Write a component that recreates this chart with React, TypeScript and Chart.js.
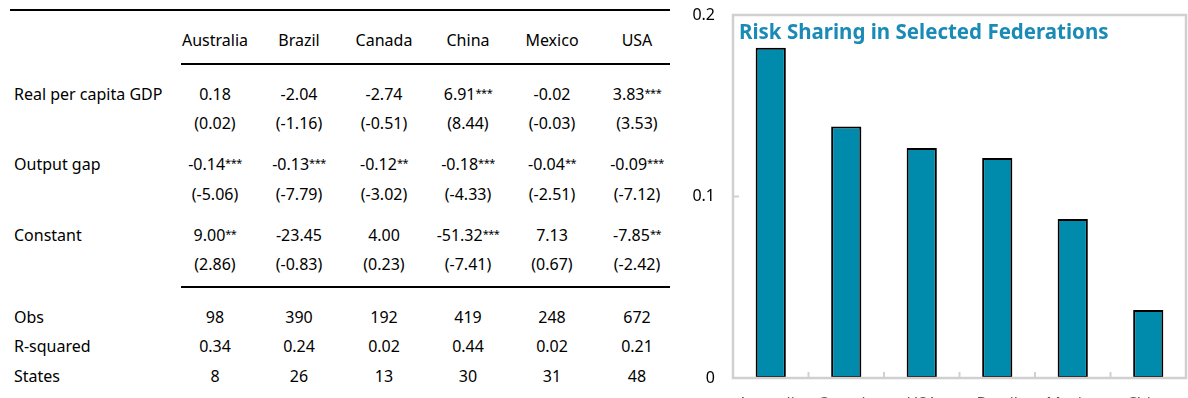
import React, { useEffect, useRef } from "react";
import { Chart, registerables } from "chart.js";

Chart.register(...registerables);

// ---- Table data ----
const countries = ["Australia", "Brazil", "Canada", "China", "Mexico", "USA"];
const gdpCoef = ["0.18", "-2.04", "-2.74", "6.91***", "-0.02", "3.83***"];
const gdpT = ["(0.02)", "(-1.16)", "(-0.51)", "(8.44)", "(-0.03)", "(3.53)"];
const gapCoef = ["-0.14***", "-0.13***", "-0.12**", "-0.18***", "-0.04**", "-0.09***"];
const gapT = ["(-5.06)", "(-7.79)", "(-3.02)", "(-4.33)", "(-2.51)", "(-7.12)"];
const constCoef = ["9.00**", "-23.45", "4.00", "-51.32***", "7.13", "-7.85**"];
const constT = ["(2.86)", "(-0.83)", "(0.23)", "(-7.41)", "(0.67)", "(-2.42)"];
const obs = ["98", "390", "192", "419", "248", "672"];
const rSquared = ["0.34", "0.24", "0.02", "0.44", "0.02", "0.21"];
const statesCount = ["8", "26", "13", "30", "31", "48"];

// ---- Chart data ----
const chartTitle = "Risk Sharing in Selected Federations";
const federations = ["Australia", "Canada", "USA", "Brazil", "Mexico", "China"];
const riskSharing = [0.182, 0.1385, 0.1267, 0.1212, 0.0876, 0.0375];
const yTicks = [0, 0.1, 0.2];

const FONT = "'Noto Sans', 'Open Sans', sans-serif";
const colCenters = [215, 299, 384, 468, 552, 637];

function Val({ s }: { s: string }) {
  const m = s.match(/^(.*?)(\*+)$/);
  if (!m) return <>{s}</>;
  return (
    <>
      {m[1]}
      <span style={{ fontSize: 11, position: "relative", top: -3, letterSpacing: -0.5 }}>{m[2]}</span>
    </>
  );
}

function Row({ y, label, values }: { y: number; label?: string; values: string[] }) {
  return (
    <>
      {label && (
        <div style={{ position: "absolute", left: 14, top: y - 12, height: 24, lineHeight: "24px", whiteSpace: "nowrap" }}>
          {label}
        </div>
      )}
      {values.map((v, i) => (
        <div
          key={i}
          style={{
            position: "absolute",
            left: colCenters[i] - 50,
            width: 100,
            top: y - 12,
            height: 24,
            lineHeight: "24px",
            textAlign: "center",
            whiteSpace: "nowrap",
          }}
        >
          <Val s={v} />
        </div>
      ))}
    </>
  );
}

const framePlugin = {
  id: "framePlugin",
  afterDraw(chart: any) {
    const { ctx, chartArea } = chart;
    const { left, right, top, bottom } = chartArea;
    ctx.save();
    ctx.strokeStyle = "#d0d0d0";
    ctx.lineWidth = 2.5;
    ctx.strokeRect(left, top, right - left, bottom - top);
    // x category boundary ticks (inside)
    ctx.lineWidth = 2;
    const n = federations.length;
    const step = (right - left) / n;
    for (let i = 1; i < n; i++) {
      const x = left + step * i;
      ctx.beginPath();
      ctx.moveTo(x, bottom);
      ctx.lineTo(x, bottom - 6);
      ctx.stroke();
    }
    // y inner ticks
    const ys = chart.scales.y;
    yTicks.forEach((t) => {
      const y = ys.getPixelForValue(t);
      ctx.beginPath();
      ctx.moveTo(left, y);
      ctx.lineTo(left + 6, y);
      ctx.stroke();
    });
    // title
    ctx.fillStyle = "#1a8bb6";
    ctx.font = `bold 20.5px ${FONT}`;
    ctx.textBaseline = "middle";
    ctx.textAlign = "left";
    ctx.fillText(chartTitle, left + 6, 33);
    ctx.restore();
  },
};

function BarChart() {
  const ref = useRef<HTMLCanvasElement>(null);
  useEffect(() => {
    if (!ref.current) return;
    const chart = new Chart(ref.current, {
      type: "bar",
      data: {
        labels: federations,
        datasets: [
          {
            data: riskSharing,
            backgroundColor: "#008bad",
            borderColor: "#000000",
            borderWidth: 2,
            barPercentage: 0.4,
            categoryPercentage: 1,
            borderSkipped: false,
          },
        ],
      },
      options: {
        animation: false,
        responsive: false,
        maintainAspectRatio: false,
        layout: { padding: { top: 15, right: 2, left: 0, bottom: 0 } },
        plugins: { legend: { display: false }, tooltip: { enabled: false }, title: { display: false } },
        scales: {
          x: {
            grid: { display: false, drawTicks: false },
            border: { display: false },
            ticks: { color: "#595959", font: { family: FONT, size: 16 }, padding: 17, maxRotation: 0 },
            afterFit: (s: any) => {
              s.height = 32;
              s.paddingLeft = 0;
              s.paddingRight = 0;
            },
          },
          y: {
            min: 0,
            max: 0.2,
            grid: { display: false, drawTicks: false },
            border: { display: false },
            afterBuildTicks: (s: any) => {
              s.ticks = yTicks.map((v) => ({ value: v }));
            },
            ticks: {
              color: "#000000",
              font: { family: FONT, size: 16 },
              padding: 18,
              callback: (v: any) => String(Number(v)),
            },
            afterFit: (s: any) => {
              s.width = 53;
              s.paddingTop = 0;
              s.paddingBottom = 0;
            },
          },
        },
      },
      plugins: [framePlugin],
    });
    return () => chart.destroy();
  }, []);
  return <canvas ref={ref} width={508} height={410} style={{ display: "block", width: 508, height: 410 }} />;
}

export default function App() {
  return (
    <div
      style={{
        position: "absolute",
        left: 0,
        top: 0,
        width: 1188,
        height: 398,
        overflow: "hidden",
        background: "#ffffff",
        fontFamily: FONT,
        fontSize: 16,
        color: "#000",
      }}
    >
      {/* table rules */}
      <div style={{ position: "absolute", left: 10, top: 9, width: 660, height: 2, background: "#000" }} />
      <div style={{ position: "absolute", left: 181, top: 63, width: 489, height: 2, background: "#000" }} />
      <div style={{ position: "absolute", left: 181, top: 286, width: 489, height: 2, background: "#000" }} />

      <Row y={40} values={countries} />
      <Row y={94} label="Real per capita GDP" values={gdpCoef} />
      <Row y={123} values={gdpT} />
      <Row y={164} label="Output gap" values={gapCoef} />
      <Row y={194} values={gapT} />
      <Row y={235} label="Constant" values={constCoef} />
      <Row y={264} values={constT} />
      <Row y={317} label="Obs" values={obs} />
      <Row y={346} label="R-squared" values={rSquared} />
      <Row y={376} label="States" values={statesCount} />

      <div style={{ position: "absolute", left: 680, top: 0, width: 508, height: 410 }}>
        <BarChart />
      </div>
    </div>
  );
}
